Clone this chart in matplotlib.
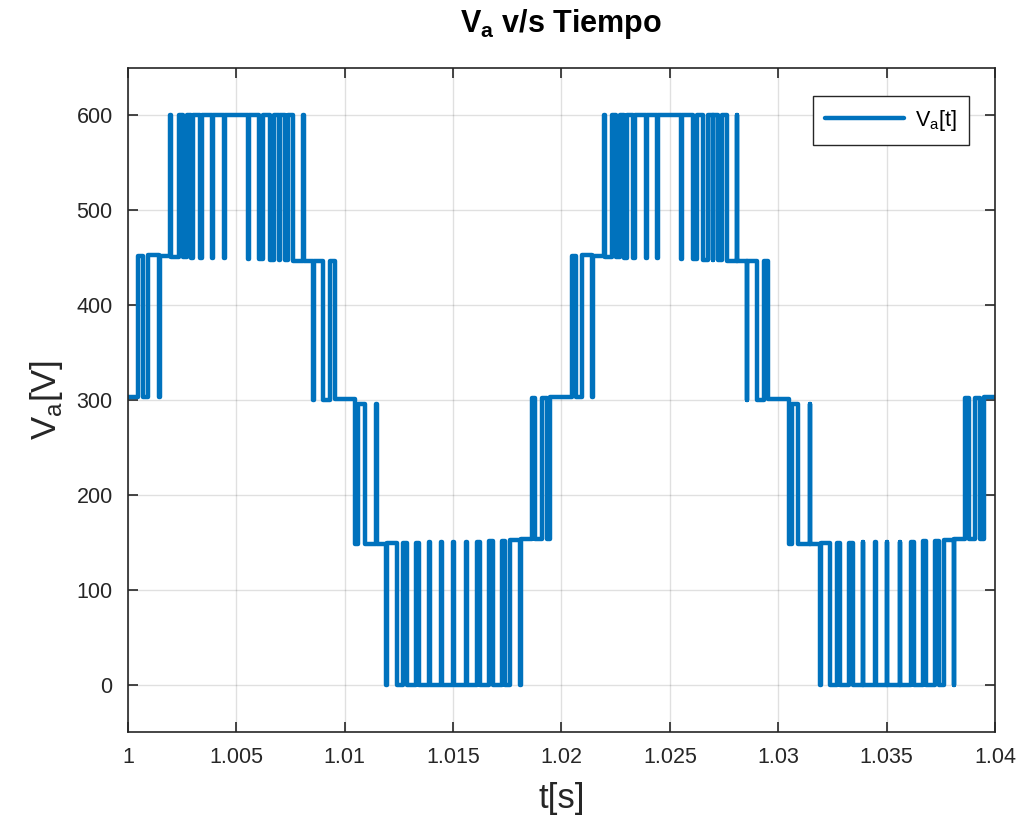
import numpy as np
import matplotlib.pyplot as plt

# switching instants [s] and the voltage level [V] held after each one
t_switch = [
    1.000475, 1.000678, 1.000937, 1.001430, 1.001458,
    1.001961, 1.001988, 1.002353, 1.002524, 1.002708,
    1.002893, 1.003013, 1.003322, 1.003400, 1.003899,
    1.003926, 1.004429, 1.004457, 1.005536, 1.005564,
    1.006058, 1.006242, 1.006551, 1.006736, 1.006967,
    1.006994, 1.007243, 1.007396, 1.007626, 1.008074,
    1.008101, 1.008549, 1.008577, 1.009010, 1.009320,
    1.009550, 1.010473, 1.010625, 1.010934, 1.011442,
    1.011469, 1.011926, 1.011954, 1.012397, 1.012701,
    1.012858, 1.013273, 1.013439, 1.013887, 1.013915,
    1.014464, 1.014491, 1.014994, 1.015022, 1.015594,
    1.015622, 1.016115, 1.016240, 1.016655, 1.016826,
    1.017241, 1.017393, 1.017624, 1.018085, 1.018113,
    1.018625, 1.018777, 1.019087, 1.019317, 1.019469,
    # second cycle
    1.020475, 1.020678, 1.020937, 1.021430, 1.021458,
    1.021961, 1.021988, 1.022353, 1.022524, 1.022708,
    1.022893, 1.023013, 1.023322, 1.023400, 1.023899,
    1.023926, 1.024429, 1.024457, 1.025536, 1.025564,
    1.026058, 1.026242, 1.026551, 1.026736, 1.026967,
    1.026994, 1.027243, 1.027396, 1.027626, 1.028074,
    1.028101, 1.028549, 1.028577, 1.029010, 1.029320,
    1.029550, 1.030473, 1.030625, 1.030934, 1.031442,
    1.031469, 1.031926, 1.031954, 1.032397, 1.032701,
    1.032858, 1.033273, 1.033439, 1.033887, 1.033915,
    1.034464, 1.034491, 1.034994, 1.035022, 1.035594,
    1.035622, 1.036115, 1.036240, 1.036655, 1.036826,
    1.037241, 1.037393, 1.037624, 1.038085, 1.038113,
    1.038625, 1.038777, 1.039087, 1.039317, 1.039469,
]
v_level = [
    452, 303, 453, 303, 452,
    600, 451, 600, 451, 600,
    450, 600, 450, 600, 450,
    600, 450, 600, 449, 600,
    449, 600, 448, 600, 448,
    600, 448, 600, 447, 600,
    447, 300, 447, 300, 446,
    301, 148, 296, 148, 296,
    148, 0, 149, 0, 149,
    0, 149, 0, 150, 0,
    150, 0, 150, 0, 150,
    0, 150, 0, 151, 0,
    151, 0, 152, 0, 153,
    302, 153, 302, 153, 303,
    # second cycle
    452, 303, 453, 303, 452,
    600, 451, 600, 451, 600,
    450, 600, 450, 600, 450,
    600, 450, 600, 449, 600,
    449, 600, 448, 600, 448,
    600, 448, 600, 447, 600,
    447, 300, 447, 300, 446,
    301, 148, 296, 148, 296,
    148, 0, 149, 0, 149,
    0, 149, 0, 150, 0,
    150, 0, 150, 0, 150,
    0, 150, 0, 151, 0,
    151, 0, 152, 0, 153,
    302, 153, 302, 153, 303,
]
t_start, v_start = 1.0, 303
t_end = 1.04

xticks = [1, 1.005, 1.01, 1.015, 1.02, 1.025, 1.03, 1.035, 1.04]
xtick_labels = ['1', '1.005', '1.01', '1.015', '1.02', '1.025', '1.03', '1.035', '1.04']
yticks = [0, 100, 200, 300, 400, 500, 600]

plt.rcParams['font.family'] = ['Liberation Sans', 'DejaVu Sans']

t = np.array([t_start] + t_switch + [t_end])
v = np.array([v_start] + v_level + [v_level[-1]])

fig = plt.figure(figsize=(10.22, 8.27), dpi=100)
ax = fig.add_axes([0.1252, 0.1149, 0.8484, 0.8029])

ax.plot(t, v, drawstyle='steps-post', color='#0072BD', linewidth=3.2,
        solid_joinstyle='round', solid_capstyle='round', label=r'V$_\mathregular{a}$[t]')

ax.set_xlim(1.0, 1.04)
ax.set_ylim(-50, 650)
ax.set_xticks(xticks)
ax.set_xticklabels(xtick_labels)
ax.set_yticks(yticks)

dark = '#262626'
ax.tick_params(direction='in', length=7, width=1.2, top=True, right=True,
               labelsize=15.5, colors=dark, pad=11)
for s in ax.spines.values():
    s.set_color(dark)
    s.set_linewidth(1.2)
ax.grid(True, color='#000000', alpha=0.12, linewidth=1)

ax.set_title(r'V$_\mathregular{a}$ v/s Tiempo', fontsize=22, fontweight='bold', pad=26)
ax.set_xlabel('t[s]', fontsize=25, color=dark, labelpad=10)
ax.set_ylabel(r'V$_\mathregular{a}$[V]', fontsize=25, color=dark, labelpad=8)

leg = ax.legend(loc='upper right', bbox_to_anchor=(0.970, 0.958), borderaxespad=0,
                fancybox=False, framealpha=1, edgecolor=dark, fontsize=15.5,
                handlelength=3.7, handletextpad=0.5, borderpad=0.55)
leg.get_frame().set_linewidth(1.0)

fig.savefig('out.png', dpi=100)
